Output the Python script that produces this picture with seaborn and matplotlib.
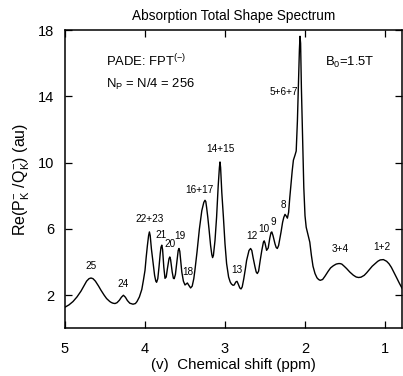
import numpy as np
import pandas as pd
import matplotlib
matplotlib.use("Agg")
import matplotlib.pyplot as plt
import seaborn as sns

# Traced spectrum (chemical shift in ppm, Re(P/Q) in au)
shift_ppm = [
    5.00, 4.95, 4.90, 4.85, 4.80, 4.76, 4.73, 4.70, 4.675, 4.65, 4.62, 4.58, 4.55, 4.51, 4.48, 4.44,
    4.42, 4.40, 4.375, 4.35, 4.32, 4.295, 4.27, 4.245, 4.22, 4.19, 4.15, 4.12, 4.10, 4.07, 4.04,
    4.02, 4.00, 3.985, 3.97, 3.955, 3.945, 3.935, 3.92, 3.90, 3.88, 3.865, 3.855, 3.84, 3.825,
    3.81, 3.80, 3.79, 3.78, 3.765, 3.75, 3.735, 3.72, 3.70, 3.69, 3.68, 3.66, 3.645, 3.635,
    3.62, 3.60, 3.585, 3.575, 3.565, 3.55, 3.54, 3.52, 3.50, 3.485, 3.47, 3.455, 3.43, 3.41,
    3.39, 3.375, 3.35, 3.32, 3.29, 3.265, 3.25, 3.24, 3.23, 3.215, 3.20, 3.18, 3.165, 3.155,
    3.145, 3.125, 3.105, 3.085, 3.07, 3.0625, 3.055, 3.04, 3.02, 3.00, 2.98, 2.955, 2.935, 2.92,
    2.90, 2.885, 2.865, 2.85, 2.835, 2.815, 2.80, 2.785, 2.765, 2.745, 2.73, 2.70, 2.68, 2.665,
    2.65, 2.625, 2.61, 2.596, 2.58, 2.56, 2.54, 2.52, 2.51, 2.50, 2.48, 2.46, 2.44, 2.425, 2.415,
    2.40, 2.375, 2.36, 2.346, 2.33, 2.30, 2.28, 2.265, 2.25, 2.235, 2.22, 2.205, 2.19, 2.175,
    2.16, 2.145, 2.125, 2.11, 2.095, 2.08, 2.07, 2.0625, 2.055, 2.045, 2.03, 2.015, 2.00, 1.985,
    1.96, 1.94, 1.92, 1.90, 1.875, 1.85, 1.83, 1.81, 1.78, 1.75, 1.71, 1.68, 1.646, 1.61, 1.58,
    1.5625, 1.54, 1.51, 1.48, 1.44, 1.396, 1.36, 1.33, 1.30, 1.26, 1.23, 1.19, 1.16, 1.125, 1.09,
    1.06, 1.02, 0.98, 0.95, 0.92, 0.89, 0.854, 0.82, 0.79, 0.78,
]
re_pq = [
    1.28, 1.42, 1.62, 1.90, 2.25, 2.60, 2.85, 3.00, 3.04, 3.00, 2.85, 2.55, 2.30, 2.00, 1.80, 1.62,
    1.56, 1.52, 1.50, 1.55, 1.70, 1.88, 2.00, 1.88, 1.68, 1.52, 1.46, 1.50, 1.62, 1.90, 2.35,
    2.90, 3.50, 4.30, 5.00, 5.60, 5.82, 5.60, 4.80, 4.00, 3.20, 2.85, 2.78, 3.00, 3.70,
    4.50, 4.90, 5.02, 4.75, 3.70, 3.02, 3.10, 3.60, 4.20, 4.31, 4.15, 3.40, 3.02, 3.00,
    3.25, 4.10, 4.70, 4.82, 4.65, 3.90, 3.40, 2.85, 2.62, 2.68, 2.74, 2.62, 2.44, 2.55,
    3.00, 3.55, 4.60, 6.00, 7.10, 7.60, 7.73, 7.65, 7.30, 6.70, 6.00, 5.00, 4.45, 4.27,
    4.40, 5.30, 6.72, 8.60, 9.70, 10.04, 9.70, 8.20, 6.72, 5.10, 3.91, 3.10, 2.80, 2.68,
    2.60, 2.62, 2.80, 2.84, 2.68, 2.44, 2.38, 2.50, 3.00, 3.60, 4.10, 4.70, 4.82, 4.70,
    4.30, 3.71, 3.40, 3.31, 3.45, 4.10, 4.70, 5.20, 5.28, 5.15, 4.71, 4.85, 5.45, 5.78, 5.82,
    5.60, 5.10, 4.88, 4.82, 5.00, 5.80, 6.40, 6.70, 6.88, 6.78, 6.65, 7.00, 7.90, 8.70,
    9.50, 10.15, 10.45, 10.70, 12.50, 15.00, 16.80, 17.62, 17.20, 14.50, 11.50, 8.50, 6.80, 6.10,
    5.60, 5.20, 4.40, 3.75, 3.31, 3.05, 2.95, 2.90, 2.95, 3.15, 3.45, 3.65, 3.78, 3.88, 3.91,
    3.91, 3.88, 3.75, 3.61, 3.40, 3.21, 3.10, 3.07, 3.09, 3.20, 3.35, 3.58, 3.75, 3.90, 4.05,
    4.13, 4.15, 4.05, 3.90, 3.68, 3.40, 3.05, 2.72, 2.45, 2.38,
]

# Peak annotations
peak_labels = ["25", "24", "22+23", "21", "20", "19", "18", "16+17", "14+15", "13",
               "12", "10", "9", "8", "5+6+7", "3+4", "1+2"]
label_x = [4.68, 4.27, 3.94, 3.80, 3.69, 3.565, 3.47, 3.32, 3.06, 2.855,
           2.665, 2.52, 2.40, 2.265, 2.27, 1.5625, 1.04]
label_y = [3.45, 2.35, 6.30, 5.35, 4.80, 5.30, 3.12, 8.05, 10.52, 3.25,
           5.28, 5.70, 6.10, 7.15, 13.95, 4.50, 4.62]

xticks = [5, 4, 3, 2, 1]
yticks = [2, 6, 10, 14, 18]

sns.set_theme(style="ticks")
plt.rcParams['font.family'] = ['Liberation Sans', 'DejaVu Sans']
plt.rcParams['mathtext.fontset'] = 'custom'
plt.rcParams['mathtext.rm'] = 'Liberation Sans'
plt.rcParams['mathtext.it'] = 'Liberation Sans:italic'
plt.rcParams['mathtext.bf'] = 'Liberation Sans:bold'
plt.rcParams['text.color'] = 'black'
plt.rcParams['axes.labelcolor'] = 'black'
plt.rcParams['xtick.color'] = 'black'
plt.rcParams['ytick.color'] = 'black'

fig = plt.figure(figsize=(4.03, 3.76), dpi=100)
ax = fig.add_axes([65 / 403, 1 - 328.4 / 376, 337 / 403, (328.4 - 30) / 376])

df = pd.DataFrame({"shift": shift_ppm, "val": re_pq})
sns.lineplot(data=df, x="shift", y="val", sort=False, estimator=None,
             color="black", linewidth=1.0, ax=ax)

ax.set_xlim(5, 0.7875)
ax.set_ylim(0, 18)
ax.set_xticks(xticks)
ax.set_xticklabels([str(t) for t in xticks])
ax.set_yticks(yticks)
ax.set_yticklabels([str(t) for t in yticks])
ax.tick_params(direction="in", length=5, width=0.9, labelsize=10.5,
               top=True, right=True, colors="black", labelcolor="black")
ax.tick_params(axis="x", pad=10)
ax.tick_params(axis="y", pad=8)
for s in ax.spines.values():
    s.set_linewidth(1.1)
    s.set_color("black")

ax.set_xlabel("(v)  Chemical shift (ppm)", fontsize=10.9, labelpad=1, color="black")
ax.set_ylabel(r"Re(P$_{\mathrm{K}}^{\mathrm{-}}$ /Q$_{\mathrm{K}}^{\mathrm{-}}$) (au)",
              fontsize=11.5, labelpad=4, color="black")
ax.set_title("Absorption Total Shape Spectrum", fontsize=9.8, pad=7, color="black")

for lab, lx, ly in zip(peak_labels, label_x, label_y):
    ax.text(lx, ly, lab, fontsize=7.2, ha="center", va="bottom", color="black")

ax.text(0.121, 0.88, r"PADE: FPT$^{\mathrm{(-)}}$", transform=ax.transAxes,
        fontsize=9.4, color="black")
ax.text(0.121, 0.806, r"N$_{\mathrm{P}}$ = N/4 = 256", transform=ax.transAxes,
        fontsize=9.4, color="black")
ax.text(0.772, 0.88, r"B$_{\mathrm{0}}$=1.5T", transform=ax.transAxes,
        fontsize=9.4, color="black")

fig.savefig("out.png", dpi=100)
